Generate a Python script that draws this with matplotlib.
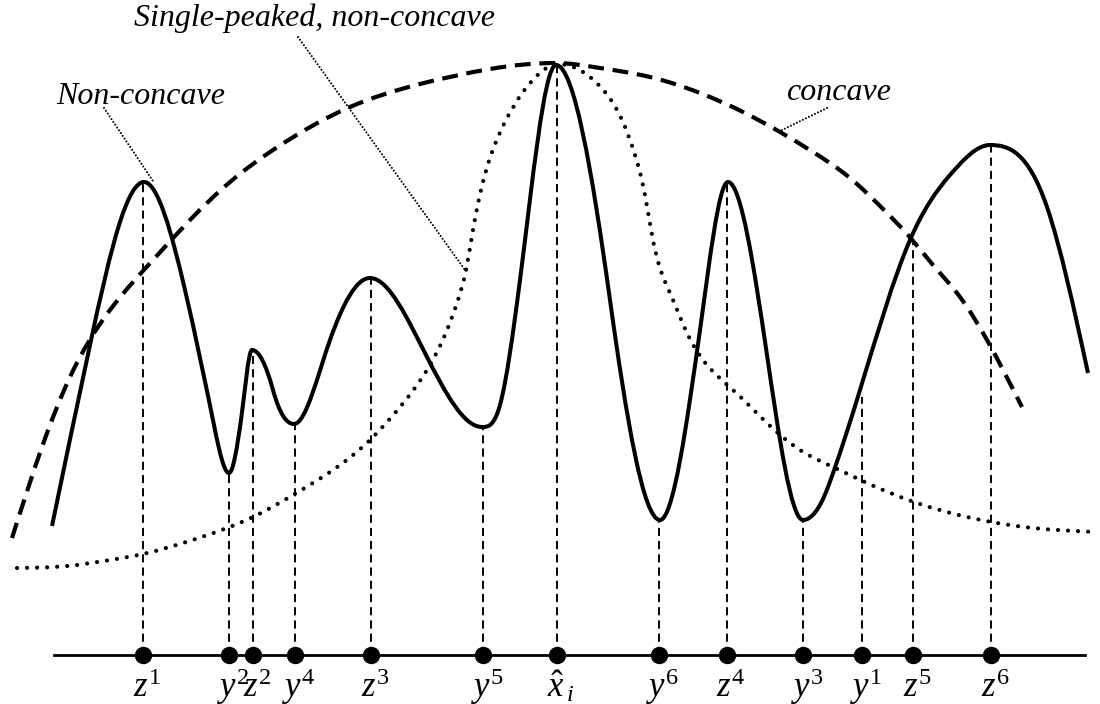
import numpy as np
import matplotlib
matplotlib.use("Agg")
import matplotlib.pyplot as plt
from matplotlib.path import Path
from matplotlib.patches import PathPatch

plt.rcParams['mathtext.fontset'] = 'custom'
plt.rcParams['mathtext.rm'] = 'Liberation Serif'
plt.rcParams['mathtext.it'] = 'Liberation Serif:italic'
plt.rcParams['mathtext.bf'] = 'Liberation Serif:bold'

# ---- data (pixel-space units) ----
solid_x = [52, 90, 120, 144, 185, 215, 229, 241, 252, 273, 294, 330, 370, 427, 482, 500, 520,
           556, 610, 660, 700, 728, 767, 803, 828, 860, 910, 950, 990, 1047, 1088]
solid_y = [526, 345, 222, 182, 290, 430, 473, 420, 350, 390, 424, 340, 278, 357, 427, 405, 280,
           65, 300, 520, 330, 182, 355, 520, 487, 390, 240, 175, 145, 207, 373]

concave_x = [12, 42, 70, 110, 153, 190, 230, 273, 350, 420, 490, 556, 600, 650, 700,
             743, 780, 813, 850, 887, 908, 933, 960, 987, 1022]
concave_y = [538, 447, 377, 310, 260, 220, 182, 150, 107, 84, 69, 63, 68, 77, 93,
             112, 132, 152, 178, 213, 235, 265, 297, 340, 407]

single_x = [17, 67, 110, 143, 183, 227, 253, 293, 333, 370, 400, 427, 447, 458, 466, 473, 481,
            491, 505, 523, 540, 557, 583, 605, 622, 635, 645, 652, 659, 670, 687, 703, 733, 767,
            800, 833, 867, 917, 967, 1033, 1097]
single_y = [568, 566, 560, 554, 543, 528, 517, 495, 470, 440, 407, 370, 330, 300, 270, 230, 190,
            155, 122, 92, 73, 64, 72, 92, 120, 155, 195, 235, 265, 293, 333, 360, 390, 423,
            450, 467, 483, 503, 517, 528, 532]

point_labels = ['$z^1$', '$y^2$', '$z^2$', '$y^4$', '$z^3$', '$y^5$', r'$\hat{x}_{\,i}$',
                '$y^6$', '$z^4$', '$y^3$', '$y^1$', '$z^5$', '$z^6$']
point_x = [143, 229, 253, 295, 371, 483, 557, 659, 727, 803, 862, 913, 991]
point_top = [182, 473, 350, 424, 278, 427, 65, 520, 183, 520, 397, 240, 145]

axis_y = 655
axis_x0, axis_x1 = 54, 1085

annotations = [
    ("Single-peaked, non-concave", 315, 18, (298, 37), (465, 270)),
    ("Non-concave", 141, 97, (104, 108), (153, 181)),
    ("concave", 839, 92, (827, 108), (780, 131)),
]


def spline_slopes(xs, ys):
    """Slopes of the natural cubic spline through the points."""
    n = len(xs)
    h = np.diff(xs)
    d = np.diff(ys) / h
    A = np.zeros((n, n))
    r = np.zeros(n)
    A[0, 0], A[0, 1], r[0] = 2, 1, 3 * d[0]
    A[-1, -2], A[-1, -1], r[-1] = 1, 2, 3 * d[-1]
    for k in range(1, n - 1):
        A[k, k - 1] = h[k]
        A[k, k] = 2 * (h[k - 1] + h[k])
        A[k, k + 1] = h[k - 1]
        r[k] = 3 * (h[k] * d[k - 1] + h[k - 1] * d[k])
    m = np.linalg.solve(A, r)
    # keep turning points flat so that peaks and troughs sit where they were read
    for k in range(1, n - 1):
        if d[k - 1] * d[k] <= 0:
            m[k] = 0.0
    return m


def smooth_path(xs, ys):
    xs = np.asarray(xs, float)
    ys = np.asarray(ys, float)
    n = len(xs)
    h = np.diff(xs)
    m = spline_slopes(xs, ys)
    verts = [(xs[0], ys[0])]
    codes = [Path.MOVETO]
    for k in range(n - 1):
        hk = h[k] / 3.0
        verts += [(xs[k] + hk, ys[k] + m[k] * hk),
                  (xs[k + 1] - hk, ys[k + 1] - m[k + 1] * hk),
                  (xs[k + 1], ys[k + 1])]
        codes += [Path.CURVE4] * 3
    return Path(verts, codes)


fig = plt.figure(figsize=(11, 7.04), dpi=100)
ax = fig.add_axes([0, 0, 1, 1])
ax.set_xlim(0, 1100)
ax.set_ylim(704, 0)
ax.axis('off')

# vertical dashed guides
for x, top in zip(point_x, point_top):
    ax.plot([x, x], [axis_y, top], color='black', lw=1.4,
            dashes=(4.2, 2.6), zorder=2)

# axis line and points
ax.plot([axis_x0, axis_x1], [axis_y, axis_y], color='black', lw=2.0, zorder=3)
ax.plot(point_x, [axis_y] * len(point_x), 'o', color='black', ms=11.5, zorder=4)

# curves
ax.add_patch(PathPatch(smooth_path(solid_x, solid_y), fill=False, lw=2.9,
                       edgecolor='black', capstyle='butt', joinstyle='round', zorder=5))
ax.add_patch(PathPatch(smooth_path(concave_x, concave_y), fill=False, lw=3.0,
                       edgecolor='black', linestyle=(0, (3.8, 2.1)), capstyle='butt', zorder=5))
ax.add_patch(PathPatch(smooth_path(single_x, single_y), fill=False, lw=3.0,
                       edgecolor='black', linestyle=(0, (0.01, 2.4)), capstyle='round', zorder=5))

# labels below axis
for lab, x in zip(point_labels, point_x):
    ax.text(x + 4, 697, lab, fontsize=25, ha='center', va='baseline', color='black')

# annotations
for txt, tx, ty, p0, p1 in annotations:
    ax.text(tx, ty, txt, fontsize=23, family='Liberation Serif', style='italic',
            ha='center', va='center', color='black')
    ax.plot([p0[0], p1[0]], [p0[1], p1[1]], color='black', lw=1.5,
            linestyle=(0, (0.01, 1.6)), dash_capstyle='round', zorder=6)

fig.savefig('out.png', dpi=100)
